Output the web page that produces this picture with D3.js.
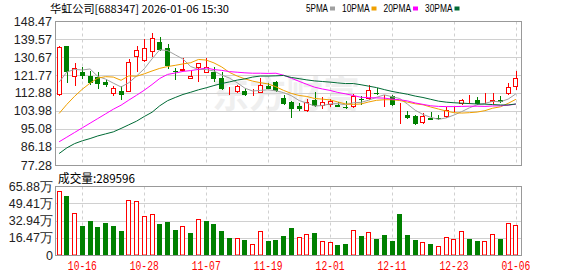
<!DOCTYPE html>
<html>
<head>
<meta charset="utf-8">
<script src="https://cdnjs.cloudflare.com/ajax/libs/d3/7.8.5/d3.min.js"></script>
<style>
  html, body { margin: 0; padding: 0; background: #fff; }
  svg { display: block; }
</style>
</head>
<body>
<svg id="kline" width="578" height="276"></svg>
<script>
const title = '华虹公司[688347] 2026-01-06 15:30';
const lastVolume = 289596;

const dates = [
  '10-13','10-14','10-15','10-16','10-17','10-20','10-21','10-22','10-23','10-24',
  '10-27','10-28','10-29','10-30','10-31','11-03','11-04','11-05','11-06','11-07',
  '11-10','11-11','11-12','11-13','11-14','11-17','11-18','11-19','11-20','11-21',
  '11-24','11-25','11-26','11-27','11-28','12-01','12-02','12-03','12-04','12-05',
  '12-08','12-09','12-10','12-11','12-12','12-15','12-16','12-17','12-18','12-19',
  '12-22','12-23','12-24','12-25','12-26','12-29','12-30','12-31','01-05','01-06'
];
const opens = [
  112.0, 136.3, 121.1, 123.6, 121.6, 120.9, 118.6, 112.5, 113.9, 113.4,
  131.0, 128.7, 133.3, 138.3, 135.5, 123.9, 123.9, 119.9, 125.7, 122.8,
  123.4, 120.6, 113.5, 113.7, 114.2, 112.3, 113.2, 116.5, 118.5, 110.7,
  108.6, 106.6, 104.1, 109.9, 106.6, 107.4, 107.4, 106.3, 106.2, 110.4,
  110.1, 113.3, 110.9, 111.6, 105.0, 102.2, 101.7, 98.4, 101.0, 101.0,
  101.3, 104.3, 107.6, 109.2, 109.9, 107.7, 108.8, 109.9, 112.5, 116.1
];
const highs = [
  136.3, 136.3, 128.2, 126.1, 124.1, 123.3, 119.8, 116.8, 116.8, 130.0,
  136.3, 139.6, 142.9, 140.9, 137.4, 125.7, 130.5, 124.1, 128.2, 130.5,
  126.1, 123.6, 116.0, 117.0, 115.4, 114.9, 120.3, 118.2, 119.3, 112.1,
  109.2, 108.3, 110.4, 113.7, 110.9, 110.1, 108.7, 109.1, 112.6, 111.6,
  117.0, 115.4, 112.1, 112.1, 108.1, 104.3, 102.2, 103.0, 103.5, 102.3,
  106.3, 106.0, 110.4, 112.1, 110.9, 113.2, 113.2, 111.6, 118.1, 123.9
];
const lows = [
  111.6, 118.1, 116.5, 119.8, 117.3, 115.2, 116.2, 111.5, 109.9, 113.4,
  123.4, 128.3, 130.8, 133.8, 125.1, 119.6, 123.9, 119.9, 118.6, 122.8,
  118.8, 114.7, 111.9, 113.2, 111.5, 111.5, 112.9, 114.9, 113.6, 107.3,
  100.9, 104.2, 103.8, 106.0, 105.4, 106.3, 106.0, 105.0, 105.6, 107.3,
  109.7, 112.1, 106.0, 106.8, 97.7, 100.2, 97.2, 97.7, 99.7, 99.8,
  101.0, 103.8, 107.3, 107.9, 107.0, 107.6, 107.9, 108.3, 112.1, 114.8
];
const closes = [
  135.9, 123.6, 125.7, 121.6, 118.1, 117.5, 117.3, 115.7, 111.9, 128.4,
  134.3, 135.3, 140.1, 134.6, 126.4, 123.5, 124.9, 121.4, 127.9, 125.8,
  119.8, 115.2, 113.7, 116.6, 112.2, 112.6, 117.0, 115.2, 113.9, 107.8,
  105.0, 105.1, 108.9, 106.7, 108.7, 109.1, 106.3, 105.9, 111.5, 109.6,
  114.8, 113.0, 111.5, 107.1, 105.2, 100.9, 97.7, 101.7, 99.9, 100.1,
  104.6, 104.9, 109.9, 109.5, 107.6, 108.1, 109.9, 108.9, 116.2, 120.4
];
const prevClose = 110.0;
// volume in 万
const volumes = [
  61.4, 56.9, 40.5, 28.0, 32.8, 27.0, 30.9, 28.0, 23.1, 52.8,
  51.8, 37.3, 39.5, 29.9, 31.8, 24.1, 28.6, 21.2, 34.4, 32.8,
  29.9, 23.1, 16.4, 17.1, 14.5, 11.3, 23.1, 13.5, 14.5, 18.3,
  26.0, 18.0, 20.9, 21.2, 14.2, 12.5, 9.6, 10.6, 24.8, 18.3,
  22.2, 15.4, 19.3, 13.8, 39.5, 19.3, 14.5, 13.2, 10.6, 9.3,
  18.0, 15.4, 23.8, 15.4, 13.5, 14.2, 20.9, 15.4, 31.5, 28.96
];
const ma5 = [
  118.5, 123.5, 124.8, 124.5, 125.0, 121.3, 120.0, 118.0, 116.1, 118.2,
  121.5, 125.1, 130.0, 134.5, 134.1, 132.0, 129.9, 126.2, 124.8, 124.7,
  124.0, 122.0, 120.5, 118.2, 115.5, 114.1, 114.4, 114.7, 114.2, 113.3,
  111.8, 109.4, 108.1, 106.7, 106.9, 107.7, 107.9, 107.3, 108.3, 108.5,
  109.6, 111.0, 112.2, 111.3, 110.4, 107.6, 104.6, 102.5, 101.1, 100.1,
  100.8, 102.2, 103.9, 105.8, 107.3, 108.0, 109.0, 108.8, 110.1, 112.7
];
const ma10 = [
  103.0, 107.5, 111.5, 115.0, 118.0, 120.5, 121.2, 121.0, 119.4, 121.6,
  121.4, 122.6, 124.0, 125.3, 126.2, 126.8, 127.5, 128.1, 129.7, 129.4,
  128.0, 126.0, 123.3, 121.5, 120.1, 119.0, 118.2, 117.6, 116.2, 114.4,
  112.9, 111.9, 111.4, 110.4, 110.1, 109.7, 108.7, 107.7, 107.5, 107.7,
  108.7, 109.5, 109.8, 109.8, 109.4, 108.6, 107.8, 107.3, 106.2, 105.2,
  104.2, 103.4, 103.2, 103.4, 103.7, 104.4, 105.6, 106.3, 108.0, 110.0
];
const ma20 = [
  89.0, 91.3, 93.6, 95.9, 98.2, 100.5, 102.8, 105.1, 107.1, 109.6,
  112.0, 114.5, 117.3, 120.3, 122.3, 123.0, 123.8, 124.2, 124.8, 125.5,
  124.7, 124.3, 123.7, 123.4, 123.1, 122.9, 122.9, 122.8, 122.9, 121.9,
  120.4, 118.9, 117.4, 116.0, 115.1, 114.4, 113.4, 112.7, 111.9, 111.0,
  110.8, 110.7, 110.6, 110.1, 109.8, 109.2, 108.2, 107.5, 106.8, 106.5,
  106.4, 106.4, 106.5, 106.6, 106.6, 106.5, 106.7, 106.8, 107.1, 107.6
];
const ma30 = [
  83.2, 86.0, 88.1, 89.5, 90.6, 91.9, 92.9, 93.9, 95.6, 97.4,
  99.2, 101.5, 103.6, 106.8, 109.3, 110.9, 112.4, 113.5, 114.7, 115.7,
  116.8, 117.8, 118.6, 119.5, 120.1, 121.0, 121.5, 121.5, 121.6, 121.8,
  120.8, 120.2, 119.6, 119.1, 118.8, 118.5, 118.1, 117.8, 117.8, 117.2,
  116.5, 115.8, 114.8, 113.9, 113.2, 112.5, 111.6, 110.9, 110.0, 109.1,
  108.6, 108.3, 108.1, 107.9, 107.7, 107.6, 107.4, 107.2, 107.2, 107.7
];

const priceTicks = [148.47, 139.57, 130.67, 121.77, 112.88, 103.98, 95.08, 86.18, 77.28];
const volumeTicks = [0, 16.47, 32.94, 49.41, 65.88];
const dateTicks = ['10-16', '10-28', '11-07', '11-19', '12-01', '12-11', '12-23', '01-06'];
const maNames = ['5PMA', '10PMA', '20PMA', '30PMA'];

const RED = '#ff0000', GREEN = '#008000';
const MA_COLORS = ['#a0a0a0', '#f0a000', '#ff00ff', '#006a35'];
const GRID = '#d0d0d0', FRAME = '#999';
const PRICE = { left: 55.5, right: 521.5, top: 21.5, bottom: 165.5 };
const VOL = { top: 186.5, bottom: 255.5 };
const CJK = '"Noto Sans CJK SC", sans-serif';
const SANS = '"Liberation Sans", Arial, sans-serif';

const svg = d3.select('#kline');

const x = d3.scaleBand().domain(dates).range([56.6, 518.4]).paddingInner(0.35);
const cx = d => x(d) + x.bandwidth() / 2;
const px = v => Math.round(v) + 0.5;

const y = d3.scaleLinear().domain([d3.min(priceTicks), d3.max(priceTicks)])
    .range([PRICE.bottom, PRICE.top]);
const yv = d3.scaleLinear().domain([0, d3.max(volumeTicks)]).range([VOL.bottom, VOL.top]);

// watermark
svg.append('text')
    .attr('x', 212).attr('y', 108)
    .style('font-family', CJK).style('font-size', '37px').style('font-weight', 'bold')
    .style('fill', '#000').style('opacity', 0.06)
    .text('东方财富');

// grids
function grid(yScale, ticks, top, bottom) {
    const g = svg.append('g');
    g.selectAll('line.h').data(ticks.filter(t => px(yScale(t)) !== top && px(yScale(t)) !== bottom))
        .join('line')
        .attr('x1', PRICE.left).attr('x2', PRICE.right)
        .attr('y1', d => px(yScale(d) - 0.5)).attr('y2', d => px(yScale(d) - 0.5))
        .attr('stroke', GRID);
    g.selectAll('line.v').data(dateTicks)
        .join('line')
        .attr('x1', d => px(cx(d))).attr('x2', d => px(cx(d)))
        .attr('y1', top).attr('y2', bottom)
        .attr('stroke', GRID).attr('stroke-dasharray', '3,3');
}
grid(y, priceTicks, PRICE.top, PRICE.bottom);
grid(yv, volumeTicks, VOL.top, VOL.bottom);

// price axis labels
svg.append('g').selectAll('text').data(priceTicks).join('text')
    .attr('x', 52).attr('y', d => y(d))
    .attr('text-anchor', 'end').attr('dominant-baseline', 'central')
    .style('font-family', SANS).style('font-size', '12.5px').style('fill', '#222')
    .text(d => d.toFixed(2));

// volume axis labels
svg.append('g').selectAll('text').data(volumeTicks).join('text')
    .attr('x', 53).attr('y', d => yv(d))
    .attr('text-anchor', 'end').attr('dominant-baseline', 'central')
    .style('font-family', SANS).style('font-size', '12.5px').style('fill', '#222')
    .text(d => d === 0 ? '0' : d.toFixed(2) + '万');

// date labels
svg.append('g').selectAll('text').data(dateTicks).join('text')
    .attr('x', d => cx(d) - 14.5).attr('y', 270)
    .attr('textLength', 29).attr('lengthAdjust', 'spacingAndGlyphs')
    .style('font-family', '"Liberation Mono", monospace').style('font-size', '12px').style('fill', RED)
    .text(d => d);

// candles
const candles = svg.append('g');
dates.forEach((d, i) => {
    const up = closes[i] >= opens[i];
    const color = up ? RED : GREEN;
    const xc = px(cx(d));
    candles.append('line')
        .attr('x1', xc).attr('x2', xc)
        .attr('y1', Math.round(y(highs[i]))).attr('y2', Math.round(y(lows[i])))
        .attr('stroke', color);
    const top = Math.round(y(Math.max(opens[i], closes[i])));
    const bot = Math.round(y(Math.min(opens[i], closes[i])));
    const x0 = Math.round(cx(d) - 2.5);
    if (up) {
        candles.append('rect')
            .attr('x', x0 + 0.5).attr('y', top + 0.5)
            .attr('width', 4).attr('height', Math.max(bot - top - 1, 0))
            .attr('fill', '#fff').attr('stroke', color);
    } else {
        candles.append('rect')
            .attr('x', x0).attr('y', top)
            .attr('width', 5).attr('height', Math.max(bot - top, 1))
            .attr('fill', color);
    }
});

// moving averages
const line = d3.line().x((d, i) => cx(dates[i])).y(d => y(d));
[ma5, ma10, ma20, ma30].forEach((series, k) => {
    svg.append('path')
        .datum(series)
        .attr('d', line)
        .attr('fill', 'none')
        .attr('stroke', MA_COLORS[k])
        .attr('stroke-width', 1);
});

// volume bars, coloured against previous close
const vols = svg.append('g');
dates.forEach((d, i) => {
    const before = i === 0 ? prevClose : closes[i - 1];
    const up = closes[i] >= before;
    const x0 = Math.round(cx(d) - 2.5);
    const top = Math.round(yv(volumes[i]));
    if (up) {
        vols.append('rect')
            .attr('x', x0 + 0.5).attr('y', top + 0.5)
            .attr('width', 4).attr('height', VOL.bottom - top - 1)
            .attr('fill', '#fff').attr('stroke', RED);
    } else {
        vols.append('rect')
            .attr('x', x0).attr('y', top)
            .attr('width', 5).attr('height', VOL.bottom - top)
            .attr('fill', GREEN);
    }
});

// frames
[[PRICE.top, PRICE.bottom], [VOL.top, VOL.bottom]].forEach(([t, b]) => {
    svg.append('rect')
        .attr('x', PRICE.left).attr('y', t)
        .attr('width', PRICE.right - PRICE.left).attr('height', b - t)
        .attr('fill', 'none').attr('stroke', FRAME);
});

// title
svg.append('text')
    .attr('x', 50).attr('y', 13)
    .attr('textLength', 179).attr('lengthAdjust', 'spacingAndGlyphs')
    .style('font-family', CJK).style('font-size', '11px').style('fill', '#000')
    .text(title);

// volume caption
svg.append('text')
    .attr('x', 58).attr('y', 183)
    .attr('textLength', 77).attr('lengthAdjust', 'spacingAndGlyphs')
    .style('font-family', CJK).style('font-size', '12px').style('fill', '#000')
    .text('成交量:' + lastVolume);

// legend
let lx = 306;
maNames.forEach((name, k) => {
    const t = svg.append('text')
        .attr('x', lx).attr('y', 12)
        .style('font-family', SANS).style('font-size', '10px').style('fill', '#000')
        .text(name);
    const w = name.length * 5.5;
    t.attr('textLength', w).attr('lengthAdjust', 'spacingAndGlyphs');
    svg.append('rect')
        .attr('x', lx + w + 2).attr('y', 6.5)
        .attr('width', 5).attr('height', 4)
        .attr('fill', MA_COLORS[k]);
    lx += w + 2 + 5 + 7;
});
</script>
</body>
</html>
